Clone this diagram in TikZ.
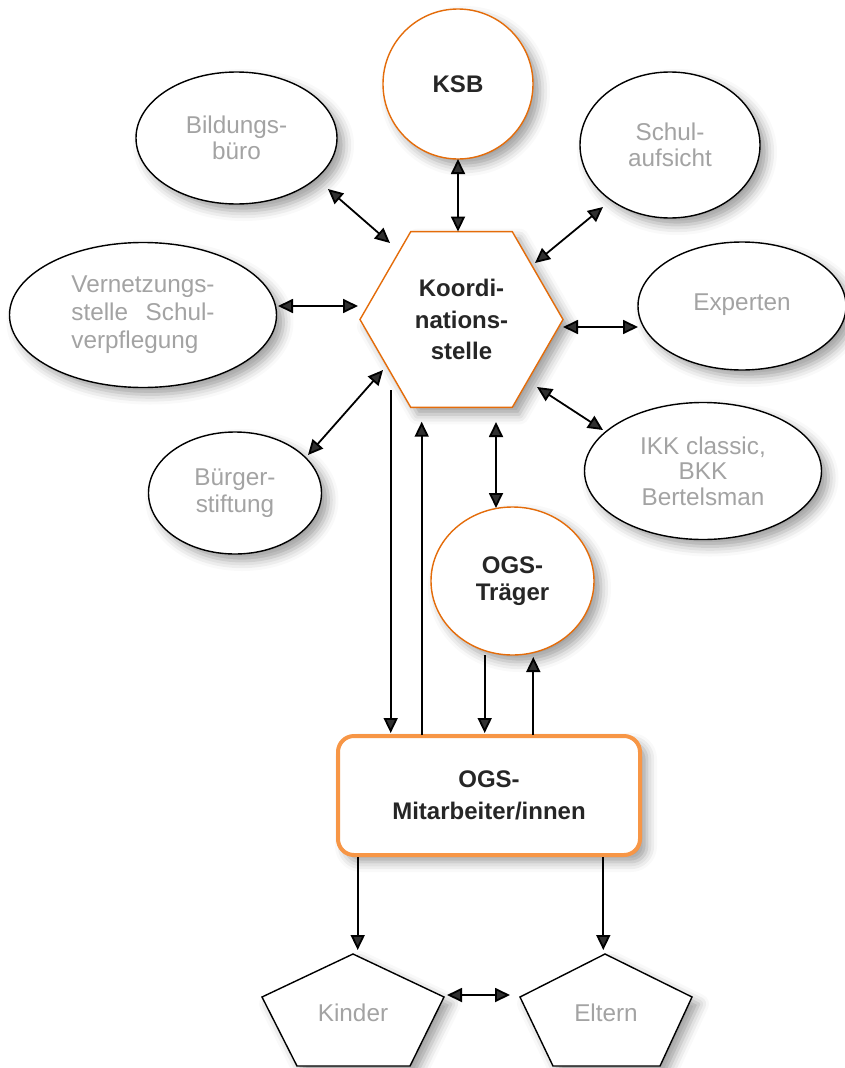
\documentclass[tikz,border=0pt]{standalone}
\usepackage{fontspec}
\setmainfont{Liberation Sans}
\usetikzlibrary{shapes.geometric,arrows.meta,calc,shadows.blur}
\definecolor{ogor}{HTML}{E46C0A}
\definecolor{ogorl}{HTML}{F79646}
\definecolor{txtg}{HTML}{A3A3A3}
\definecolor{txtd}{HTML}{262626}
\begin{document}
\begin{tikzpicture}[x=1pt,y=1pt,
 every node/.style={outer sep=0pt, inner sep=0pt},
 shad/.style={blur shadow={shadow xshift=7pt,shadow yshift=-7pt,shadow blur radius=10pt,shadow opacity=38}},
 ell/.style={ellipse, draw=black, line width=1.4pt, fill=white, shad, text=txtg, font=\fontsize{24.3}{26.5}\selectfont, align=center},
 orng/.style={draw=ogor, line width=1.4pt, fill=white, shad, text=txtd, font=\bfseries\fontsize{24}{28}\selectfont, align=center},
 pent/.style={draw=black, line width=1.4pt, fill=white, shad},
 ptext/.style={text=txtg, font=\fontsize{24.3}{26.5}\selectfont},
 arr/.style={line width=1.8pt, -{Triangle[length=15pt,width=14pt]}},
 dbl/.style={line width=1.8pt, {Triangle[length=15pt,width=14pt]}-{Triangle[length=15pt,width=14pt]}},
]
\useasboundingbox (0,0) rectangle (844,-1068);

% nodes
\node[orng, circle, minimum size=150pt] (ksb) at (458,-84) {KSB};
\node[ell, minimum width=201pt, minimum height=132pt] (bild) at (236.5,-138) {Bildungs-\\büro};
\node[ell, minimum width=180pt, minimum height=146pt] (schul) at (670,-145) {Schul-\\aufsicht};
\node[ell, minimum width=267pt, minimum height=145pt, font=\fontsize{24.3}{28}\selectfont] (vern) at (143,-315)
  {\setbox0\hbox{Vernetzungs-}\vbox{\hbox{Vernetzungs-}\hbox to\wd0{stelle\hfill Schul-}\hbox{verpflegung}}};
\node[orng, regular polygon, regular polygon sides=6, minimum size=203pt, font=\bfseries\fontsize{24}{31.5}\selectfont] (hex) at (461.5,-319.5) {Koordi-\\nations-\\stelle};
\node[ell, minimum width=208pt, minimum height=128pt] (exp) at (742,-306) {\raisebox{8pt}{Experten}};
\node[ell, minimum width=237pt, minimum height=137pt, font=\fontsize{24.3}{25.5}\selectfont] (ikk) at (703,-471) {IKK classic,\\BKK\\Bertelsman};
\node[ell, minimum width=173pt, minimum height=122pt] (buerg) at (235,-493) {Bürger-\\stiftung};
\node[orng, ellipse, minimum width=163pt, minimum height=148pt, font=\bfseries\fontsize{24}{27.5}\selectfont] (traeger) at (512.5,-581) {OGS-\\Träger};
\node[draw=ogorl, line width=4pt, rounded corners=16pt, fill=white, shad, minimum width=302pt, minimum height=119pt,
  text=txtd, font=\bfseries\fontsize{24}{31.7}\selectfont, align=center] (mit) at (489,-795.5) {OGS-\\Mitarbeiter/innen};

\coordinate (kinderTop) at (353,-954);
\coordinate (elternTop) at (605,-954);
\draw[pent] (kinderTop) -- (444,-997) -- (410,-1066) -- (297,-1066) -- (262,-997) -- cycle;
\draw[pent] (elternTop) -- (692,-997) -- (660,-1066) -- (553,-1066) -- (520,-997) -- cycle;
\node[ptext] (kinder) at (353,-1013) {Kinder};
\node[ptext] (eltern) at (606,-1013) {Eltern};

% connectors
\draw[dbl] (ksb.south) -- (ksb.south |- hex.north);
\draw[dbl] ($(bild.center)+(91.5,-51)$) -- ($(hex.center)+(-71.5,76.5)$);
\draw[dbl] ($(schul.center)+(-67,-62)$) -- ($(hex.center)+(73.5,56.5)$);
\draw[dbl] ($(vern.center)+(135,9)$) -- ($(hex.center)+(-103.5,13.5)$);
\draw[dbl] ($(hex.center)+(101.5,-7.5)$) -- ($(exp.center)+(-104,-21)$);
\draw[dbl] ($(buerg.center)+(73,38)$) -- ($(hex.center)+(-78.5,-50.5)$);
\draw[dbl] ($(hex.center)+(75.5,-67.5)$) -- ($(ikk.center)+(-100,41)$);
\draw[dbl] ($(hex.center)+(34.5,-102.5)$) -- ($(traeger.center)+(-16.5,73)$);
\draw[arr] ($(hex.center)+(-70.8,-70.5)$) -- ($(mit.center)+(-98.3,62.5)$);
\draw[arr] ($(mit.center)+(-67.3,60.5)$) -- ($(hex.center)+(-39.8,-102.2)$);
\draw[arr] ($(traeger.center)+(-27.8,-74)$) -- ($(mit.center)+(-4.3,62.5)$);
\draw[arr] ($(mit.center)+(44.3,60.5)$) -- ($(traeger.center)+(20.8,-76)$);
\draw[arr] ($(mit.center)+(-131.3,-61.5)$) -- ($(kinderTop)+(4.7,4)$);
\draw[arr] ($(mit.center)+(114.3,-61.5)$) -- ($(elternTop)+(-1.7,4)$);
\draw[dbl] ($(kinder.center)+(94,18)$) -- ($(eltern.center)+(-96,18)$);
\end{tikzpicture}
\end{document}
